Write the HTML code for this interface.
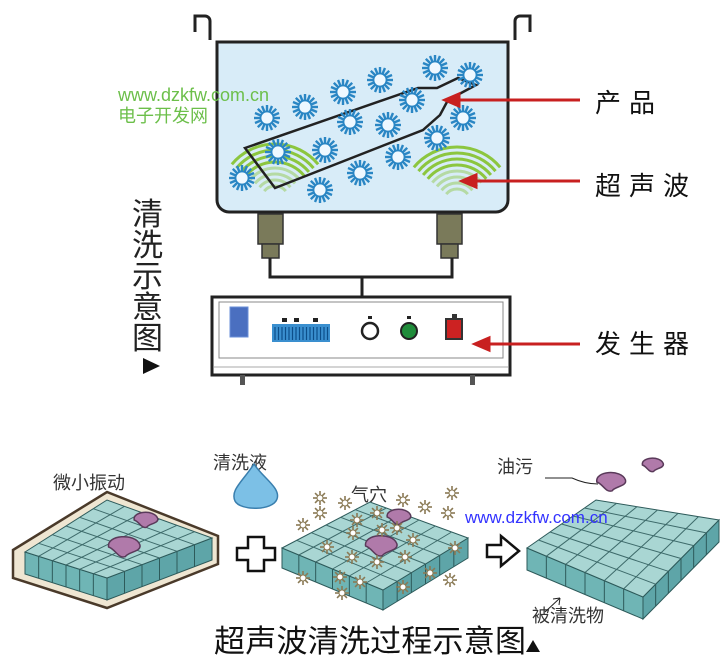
<!DOCTYPE html>
<html><head><meta charset="utf-8"><style>
html,body{margin:0;padding:0;background:#fff;}
svg{display:block;}
text{font-family:"Liberation Sans","Noto Sans CJK SC",sans-serif;}
</style></head><body>
<svg id="s" width="725" height="667" viewBox="0 0 725 667" xmlns="http://www.w3.org/2000/svg">
<defs>
<g id="bub"><g stroke="#2a86c4" stroke-width="2.4" id="spk"></g><circle r="6.5" fill="#eef8ff" stroke="#2a86c4" stroke-width="1.8"/></g>
<g id="st"><g stroke="#8a7a55" stroke-width="1.6" id="spk2"></g><circle r="3" fill="#fff" stroke="#8a7a55" stroke-width="1"/></g>
</defs>
<!-- tank -->
<path d="M195 32 V16 h10 a5 5 0 0 1 5 5 V40 M515 40 V21 a5 5 0 0 1 5 -5 h10 V32" fill="none" stroke="#222" stroke-width="3"/>
<path d="M217 42 H508 V200 a12 12 0 0 1 -12 12 H229 a12 12 0 0 1 -12 -12 Z" fill="#d8ecf8" stroke="#222" stroke-width="3"/>
<g id="waves" fill="none" stroke="#8cc63f" stroke-width="3"></g>
<path d="M245 148 L418 88 L437 88 L458 78 L476 85 L448 100 L440 115 L423 130 L275 188 Z" fill="none" stroke="#222" stroke-width="2.5"/>
<g id="bubs"></g>
<!-- legs -->
<g fill="#7a7a5a" stroke="#333" stroke-width="1.5">
<rect x="258" y="214" width="25" height="30"/><rect x="262" y="244" width="17" height="14"/>
<rect x="437" y="214" width="25" height="30"/><rect x="441" y="244" width="17" height="14"/>
</g>
<path d="M270 258 V277 H452 V258 M362 277 V297" fill="none" stroke="#222" stroke-width="3"/>
<!-- generator -->
<rect x="212" y="297" width="298" height="78" fill="#fff" stroke="#222" stroke-width="3"/>
<rect x="219" y="302" width="284" height="56" fill="#fff" stroke="#888" stroke-width="1"/>
<line x1="214" y1="367" x2="508" y2="367" stroke="#aaa"/>
<rect x="230" y="307" width="18" height="30" fill="#4a6fc0" stroke="#6a8fd8"/>
<rect x="272" y="324" width="58" height="18" fill="#3a8fcf"/>
<g stroke="#0d4f8a" stroke-width="1.2" id="bars"></g>
<rect x="282" y="318" width="5" height="4" fill="#222"/><rect x="294" y="318" width="5" height="4" fill="#222"/><rect x="313" y="318" width="5" height="4" fill="#222"/>
<circle cx="370" cy="331" r="8" fill="#fff" stroke="#222" stroke-width="2.5"/>
<circle cx="409" cy="331" r="8" fill="#1f8c3a" stroke="#222" stroke-width="2"/>
<rect x="368" y="316" width="4" height="3" fill="#222"/><rect x="407" y="316" width="4" height="3" fill="#222"/>
<rect x="446" y="319" width="16" height="20" fill="#cc2222" stroke="#333" stroke-width="2"/>
<rect x="452" y="314" width="5" height="5" fill="#333"/>
<rect x="240" y="375" width="5" height="10" fill="#555"/><rect x="470" y="375" width="5" height="10" fill="#555"/>
<!-- arrows -->
<g stroke="#c82020" stroke-width="3" fill="#c82020">
<line x1="580" y1="100" x2="455" y2="100"/><path d="M445 100 l14 -6 v12z"/>
<line x1="580" y1="181" x2="472" y2="181"/><path d="M462 181 l14 -6 v12z"/>
<line x1="580" y1="344" x2="485" y2="344"/><path d="M475 344 l14 -6 v12z"/>
</g>
<g font-size="26" fill="#111" letter-spacing="8">
<text x="595" y="112">产品</text><text x="595" y="195">超声波</text><text x="595" y="353">发生器</text>
</g>
<g font-size="31" fill="#222">
<text x="132" y="225">清</text><text x="132" y="256">洗</text><text x="132" y="287">示</text><text x="132" y="318">意</text><text x="132" y="349">图</text>
</g>
<path d="M143 358 l17 8 l-17 8z" fill="#111"/>
<text x="118" y="101" font-size="18" fill="#6cbf4a">www.dzkfw.com.cn</text>
<text x="118" y="122" font-size="18" fill="#6cbf4a">电子开发网</text>

<!-- bottom -->
<g font-size="18" fill="#333">
<text x="53" y="489">微小振动</text><text x="213" y="469">清洗液</text><text x="351" y="501">气穴</text>
<text x="497" y="473">油污</text><text x="532" y="622">被清洗物</text>
</g>
<path d="M254 464 C243 481 230 490 235 501 C240 511 273 511 277 499 C281 488 263 478 254 464Z" fill="#7cc0e6" stroke="#3a7fae" stroke-width="1.5"/>
<g id="slabs"></g>
<g id="stars"></g>
<path d="M248 537 h16 v11 h11 v12 h-11 v11 h-16 v-11 h-11 v-12 h11z" fill="#fff" stroke="#111" stroke-width="2.5"/>
<path d="M487 545 h14 v-9 l18 15 l-18 15 v-9 h-14z" fill="#fff" stroke="#111" stroke-width="2.5"/>
<path d="M545 478 L572 478 Q585 484 598 484" fill="none" stroke="#222" stroke-width="1"/>
<path d="M560 598 L545 612" stroke="#222"/><path d="M560 598 l-7 1 m7 -1 l-1 7" stroke="#222" fill="none"/>
<text x="465" y="523" font-size="17" fill="#3333ff">www.dzkfw.com.cn</text>
<text x="214" y="652" font-size="31" fill="#111" textLength="312">超声波清洗过程示意图</text>
<path d="M526 652 l7 -12 l7 12z" fill="#111"/>
</svg>
<script>
var NS="http://www.w3.org/2000/svg";
function el(p,t,a){var e=document.createElementNS(NS,t);for(var k in a)e.setAttribute(k,a[k]);p.appendChild(e);return e;}
var sp=document.getElementById('spk');
for(var i=0;i<16;i++){var a=i*Math.PI/8;el(sp,'line',{x1:6*Math.cos(a),y1:6*Math.sin(a),x2:13*Math.cos(a),y2:13*Math.sin(a)});}
var sp2=document.getElementById('spk2');
for(var i=0;i<8;i++){var a=i*Math.PI/4;el(sp2,'line',{x1:3*Math.cos(a),y1:3*Math.sin(a),x2:7*Math.cos(a),y2:7*Math.sin(a)});}
var w=document.getElementById('waves');
[[275,200],[457,203]].forEach(function(c){for(var r=14;r<=60;r+=6){var a0=Math.PI*1.22,a1=Math.PI*1.78;
 var op=r<34?0.45:1;
 el(w,'path',{d:'M'+(c[0]+r*Math.cos(a0))+' '+(c[1]+r*Math.sin(a0))+' A'+r+' '+r+' 0 0 1 '+(c[0]+r*Math.cos(a1))+' '+(c[1]+r*Math.sin(a1)),'stroke-opacity':op});}});
var bb=document.getElementById('bubs');
[[435,68],[470,75],[380,80],[343,92],[305,107],[267,118],[412,100],[350,122],[388,125],[463,118],[437,138],[278,152],[325,150],[398,157],[242,178],[320,190],[360,173]].forEach(function(p){el(bb,'use',{href:'#bub',x:p[0],y:p[1]});});
var bars=document.getElementById('bars');
for(var x=275;x<330;x+=3.5)el(bars,'line',{x1:x,y1:327,x2:x,y2:340});
var sl=document.getElementById('slabs');
function L(a,b,t){return [a[0]+(b[0]-a[0])*t,a[1]+(b[1]-a[1])*t];}
function slab(Lc,B,R,F,th,shadow){
 var g=el(sl,'g',{});
 if(shadow){el(g,'path',{d:'M'+(Lc[0]-12)+' '+(Lc[1]-2)+' L'+(B[0])+' '+(B[1]-8)+' L'+(R[0]+6)+' '+(R[1]-2)+' L'+(R[0]+6)+' '+(R[1]+th+4)+' L'+F[0]+' '+(F[1]+th+8)+' L'+(Lc[0]-12)+' '+(Lc[1]+th+4)+'Z',fill:'#efe6d2',stroke:'#4a3a2a','stroke-width':2.5});}
 el(g,'path',{d:'M'+Lc+' L'+F+' L'+[F[0],F[1]+th]+' L'+[Lc[0],Lc[1]+th]+'Z',fill:'#6fb5b5',stroke:'#2d5a5a'});
 el(g,'path',{d:'M'+F+' L'+R+' L'+[R[0],R[1]+th]+' L'+[F[0],F[1]+th]+'Z',fill:'#5ea5a8',stroke:'#2d5a5a'});
 el(g,'path',{d:'M'+Lc+' L'+B+' L'+R+' L'+F+'Z',fill:'#a9d6d3',stroke:'#2d5a5a'});
 var n=6;
 for(var i=1;i<n;i++){var t=i/n;var p=L(Lc,F,t),q=L(B,R,t);el(g,'line',{x1:p[0],y1:p[1],x2:q[0],y2:q[1],stroke:'#3d6a6a'});
  var p2=L(Lc,B,t),q2=L(F,R,t);el(g,'line',{x1:p2[0],y1:p2[1],x2:q2[0],y2:q2[1],stroke:'#3d6a6a'});
  var a=L(Lc,F,t);el(g,'line',{x1:a[0],y1:a[1],x2:a[0],y2:a[1]+th,stroke:'#2d5a5a'});
  var b=L(F,R,t);el(g,'line',{x1:b[0],y1:b[1],x2:b[0],y2:b[1]+th,stroke:'#2d5a5a'});}
 return g;}
slab([25,552],[107,500],[212,538],[107,578],22,true);
slab([282,548],[370,502],[468,538],[383,590],20,false);
slab([527,548],[596,500],[719,520],[643,597],22,false);
function blob(x,y,s){el(sl,'path',{d:'M'+(x-12*s)+' '+y+' C'+(x-14*s)+' '+(y-10*s)+' '+(x+10*s)+' '+(y-12*s)+' '+(x+14*s)+' '+(y-2*s)+' C'+(x+16*s)+' '+(y+4*s)+' '+(x+4*s)+' '+(y+4*s)+' '+(x+2*s)+' '+(y+8*s)+' C'+(x-4*s)+' '+(y+10*s)+' '+(x-6*s)+' '+(y+2*s)+' '+(x-12*s)+' '+y+'Z',fill:'#b07aaa',stroke:'#5a3a5a','stroke-width':1.5});}
blob(145,520,0.9);blob(123,547,1.2);blob(398,517,0.9);blob(380,546,1.2);blob(610,482,1.1);blob(652,465,0.8);
var stg=document.getElementById('stars');
[[320,498],[345,503],[320,513],[303,525],[327,547],[353,533],[357,520],[377,513],[403,500],[425,507],[452,493],[448,513],[397,528],[413,540],[352,557],[377,562],[405,557],[455,548],[303,578],[340,577],[360,582],[342,593],[403,587],[430,573],[450,580],[382,530]].forEach(function(p){el(stg,'use',{href:'#st',x:p[0],y:p[1]});});
</script>
</body></html>
